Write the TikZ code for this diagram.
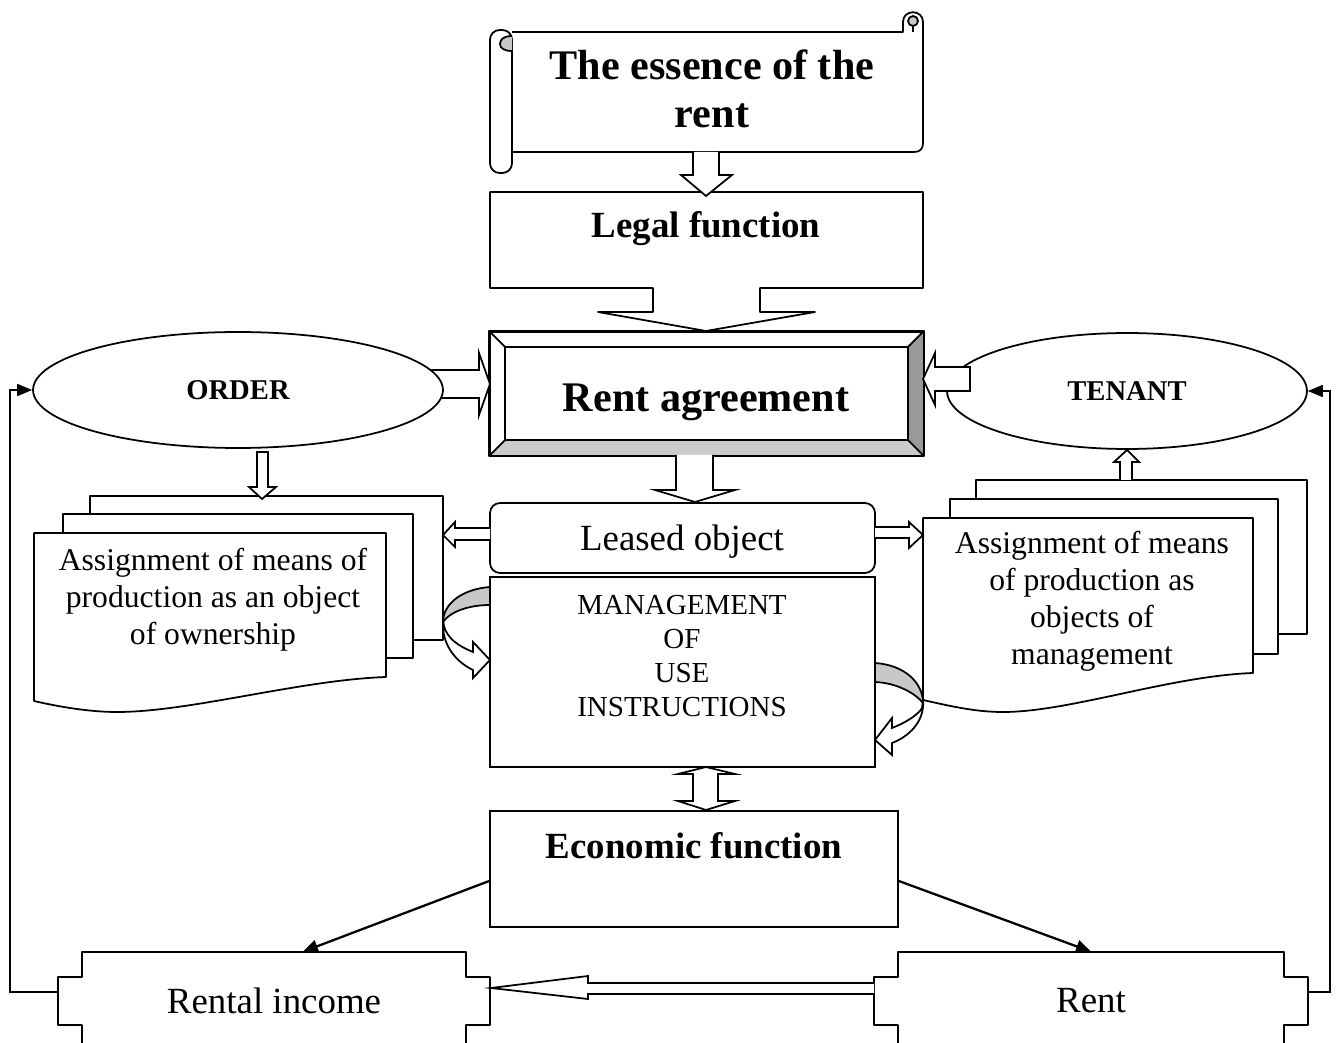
\documentclass[tikz,border=0pt]{standalone}
\usepackage{fontspec}
\setmainfont{Liberation Serif}
\usetikzlibrary{shapes.geometric, arrows.meta, positioning, calc}
\definecolor{bevellight}{HTML}{CCCCCC}
\definecolor{beveldark}{HTML}{999999}
\definecolor{curlgray}{HTML}{C8C8C8}

\begin{document}
\begin{tikzpicture}[
  x=0.02cm, y=-0.02cm,
  outline/.style={draw=black, line width=1pt, line join=round},
  blk/.style={draw=black, fill=white, line width=1pt, line join=miter},
  box/.style={rectangle, draw=black, fill=white, line width=1pt, inner sep=0pt},
  oval/.style={ellipse, draw=black, fill=white, line width=1pt, inner sep=0pt},
  txt/.style={align=center, inner sep=0pt},
  titlefont/.style={font=\fontsize{24}{27.3}\selectfont\bfseries},
  headfont/.style={font=\fontsize{21}{25}\selectfont\bfseries},
  bodyfont/.style={font=\fontsize{21}{25}\selectfont},
  docfont/.style={font=\fontsize{18}{21}\selectfont},
  capsfont/.style={font=\fontsize{16.5}{19.3}\selectfont},
  ovalfont/.style={font=\fontsize{16.3}{19}\selectfont\bfseries},
  arr/.style={-{Triangle[length=0.3cm,width=0.26cm]}, line width=1.3pt},
  farr/.style={-{Triangle[length=0.3cm,width=0.24cm]}, line width=1pt},
]
\path[use as bounding box] (0,0) rectangle (1339,1043);
\clip (0,0) rectangle (1339,1043);

% scroll title
\draw[outline, fill=white] (512,32) -- (903,32) -- (903,22) .. controls (903,9) and (923,9) .. (923,22)
  -- (923,143) .. controls (923,149) and (920,152) .. (914,152) -- (512,152);
\draw[outline, fill=curlgray] (913,21) circle (5);
\draw[outline] (913,26) -- (913,32);
\draw[outline, fill=white, rounded corners=5.5pt] (490,30) rectangle (512,173);
\draw[outline, fill=curlgray] (512,36) .. controls (503,36) and (500,40) .. (500,44) .. controls (500,48) and (504,51) .. (512,51);
\node[txt, titlefont] (essence) at (712,89) {The essence of the\\rent};

% legal function callout
\draw[outline, fill=white] (490,192) -- (923,192) -- (923,288) -- (760,288) -- (760,312) -- (815,312)
  -- (706,331) -- (598,312) -- (653,312) -- (653,288) -- (490,288) -- cycle;
\node[txt, headfont] (legal) at (706,229) {Legal function};
\draw[blk] (693,152) -- (693,175) -- (681,175) -- (706,196) -- (732,175) -- (719,175) -- (719,152);

% rent agreement (bevel)
\node[box, minimum width=8.66cm, minimum height=2.46cm] (agree) at (706.5,393.5) {};
\fill[beveldark] (agree.north east) -- (agree.south east) -- ($(agree.south east)+(-16,-16)$) -- ($(agree.north east)+(-16,16)$) -- cycle;
\fill[bevellight] (agree.south west) -- (agree.south east) -- ($(agree.south east)+(-16,-16)$) -- ($(agree.south west)+(16,-16)$) -- cycle;
\draw[outline] (agree.north west) rectangle (agree.south east);
\draw[outline, line width=1.4pt] ($(agree.north west)+(16,16)$) rectangle ($(agree.south east)+(-16,-16)$);
\foreach \c/\dx/\dy in {north west/16/16, north east/-16/16, south east/-16/-16, south west/16/-16}
  \draw[outline] (agree.\c) -- ++(\dx,\dy);
\node[txt, font=\fontsize{24}{28}\selectfont\bfseries] (agreetxt) at (706,402) {Rent agreement};

% order and tenant
\draw[blk] (425,370) -- (479,370) -- (479,353) -- (490,384) -- (479,415) -- (479,398) -- (425,398);
\node[oval, ovalfont, minimum width=8.2cm, minimum height=2.32cm] (order) at (238,390) {ORDER};
\node[oval, ovalfont, minimum width=7.2cm, minimum height=2.32cm] (tenant) at (1127,391) {TENANT};
\draw[blk] (970,391) -- (970,367) -- (935,367) -- (935,353) -- (923,379) -- (935,405) -- (935,391) -- cycle;

% leased object
\node[box, rounded corners=0.2cm, minimum width=7.7cm, minimum height=1.4cm] (leased) at (682.5,538) {};
\node[txt, bodyfont] (leasedtxt) at (682,542) {Leased object};
\draw[blk] (676,455) -- (676,490) -- (655,490) -- (695,502) -- (735,490) -- (713,490) -- (713,455);

% management of use
\node[box, minimum width=7.7cm, minimum height=3.8cm] (manage) at (682.5,672) {};
\node[txt, capsfont] (managetxt) at (682,656) {MANAGEMENT\\OF\\USE\\INSTRUCTIONS};

% economic function
\node[box, minimum width=8.16cm, minimum height=2.32cm] (econ) at (694,869) {};
\node[txt, headfont] (econtxt) at (694,846) {Economic function};
\draw[blk] (706,767) -- (735,774) -- (718,774) -- (718,801) -- (735,801) -- (706,810) -- (678,801)
  -- (693,801) -- (693,774) -- (678,774) -- cycle;

% left documents
\draw[outline, fill=white] (90,496) -- (443,496) -- (443,640) -- (90,640) -- cycle;
\draw[outline, fill=white] (63,514) -- (413,514) -- (413,658) -- (63,658) -- cycle;
\draw[outline, fill=white] (34,533) -- (386,533) -- (386,677) .. controls (300,680) and (190,712) .. (117,712)
  .. controls (90,712) and (60,707) .. (34,701) -- cycle;
\node[txt, docfont] (owndoc) at (213,600) {Assignment of means of\\production as an object\\of ownership};
\draw[blk] (257,452) -- (268,452) -- (268,487) -- (276,487) -- (262,499) -- (249,487) -- (257,487) -- cycle;
\draw[blk] (490,528) -- (455,528) -- (455,522) -- (443,535) -- (455,547) -- (455,540) -- (490,540);

% right documents
\draw[outline, fill=white] (976,480) -- (1307,480) -- (1307,634) -- (976,634) -- cycle;
\draw[outline, fill=white] (950,499) -- (1278,499) -- (1278,654) -- (950,654) -- cycle;
\draw[outline, fill=white] (923,518) -- (1253,518) -- (1253,673) .. controls (1170,676) and (1070,712) .. (1003,712)
  .. controls (975,712) and (950,706) .. (923,700) -- cycle;
\node[txt, docfont] (mgtdoc) at (1092,601) {Assignment of means\\of production as\\objects of\\management};
\draw[blk] (1120,480) -- (1120,462) -- (1114,462) -- (1127,450) -- (1139,462) -- (1132,462) -- (1132,480);
\draw[blk] (875,527) -- (909,527) -- (909,522) -- (923,535) -- (909,548) -- (909,538) -- (875,538);

% curved arrows
\draw[outline, fill=curlgray] (490,587) .. controls (462,589) and (443,604) .. (443,622)
  .. controls (450,612) and (468,605) .. (490,605) -- cycle;
\draw[blk] (443,620) .. controls (441,648) and (460,664) .. (473,670) -- (473,678) -- (490,660) -- (473,642)
  -- (473,652) .. controls (458,646) and (447,638) .. (444,626) -- cycle;
\draw[outline, fill=curlgray] (875,663) .. controls (905,665) and (923,683) .. (923,703)
  .. controls (915,693) and (897,683) .. (875,682) -- cycle;
\draw[blk] (923,700) .. controls (925,722) and (908,737) .. (892,743) -- (892,755) -- (875,740) -- (892,718)
  -- (892,728) .. controls (905,723) and (918,715) .. (922,708) -- cycle;

% rental income and rent
\node[bodyfont, inner sep=0pt, minimum width=7.68cm, minimum height=1.96cm] (income) at (274,1001) {Rental income};
\draw[outline] (income.south west) -- ++(0,-25) -- ++(-24,0) -- ++(0,-48) -- ++(24,0) -- (income.north west)
  -- (income.north east) -- ++(0,25) -- ++(24,0) -- ++(0,48) -- ++(-24,0) -- (income.south east);
\node[bodyfont, inner sep=0pt, minimum width=7.72cm, minimum height=1.96cm] (rent) at (1091,1001) {Rent};
\draw[outline] (rent.south west) -- ++(0,-25) -- ++(-24,0) -- ++(0,-48) -- ++(24,0) -- (rent.north west)
  -- (rent.north east) -- ++(0,25) -- ++(24,0) -- ++(0,48) -- ++(-24,0) -- (rent.south east);
\draw[blk] (874,983) -- (588,983) -- (588,976) -- (491,988) -- (588,999) -- (588,994) -- (874,994);

\draw[arr] ([yshift=-0.24cm]econ.west) -- ([xshift=0.58cm]income.north);
\draw[arr] ([yshift=-0.24cm]econ.east) -- (rent.north);
\draw[farr] ($(income.west)+(-24,-9)$) -- ++(-48,0) |- (order.west);
\draw[farr] ($(rent.east)+(24,-9)$) -- ++(22,0) |- (tenant.east);
\end{tikzpicture}
\end{document}
